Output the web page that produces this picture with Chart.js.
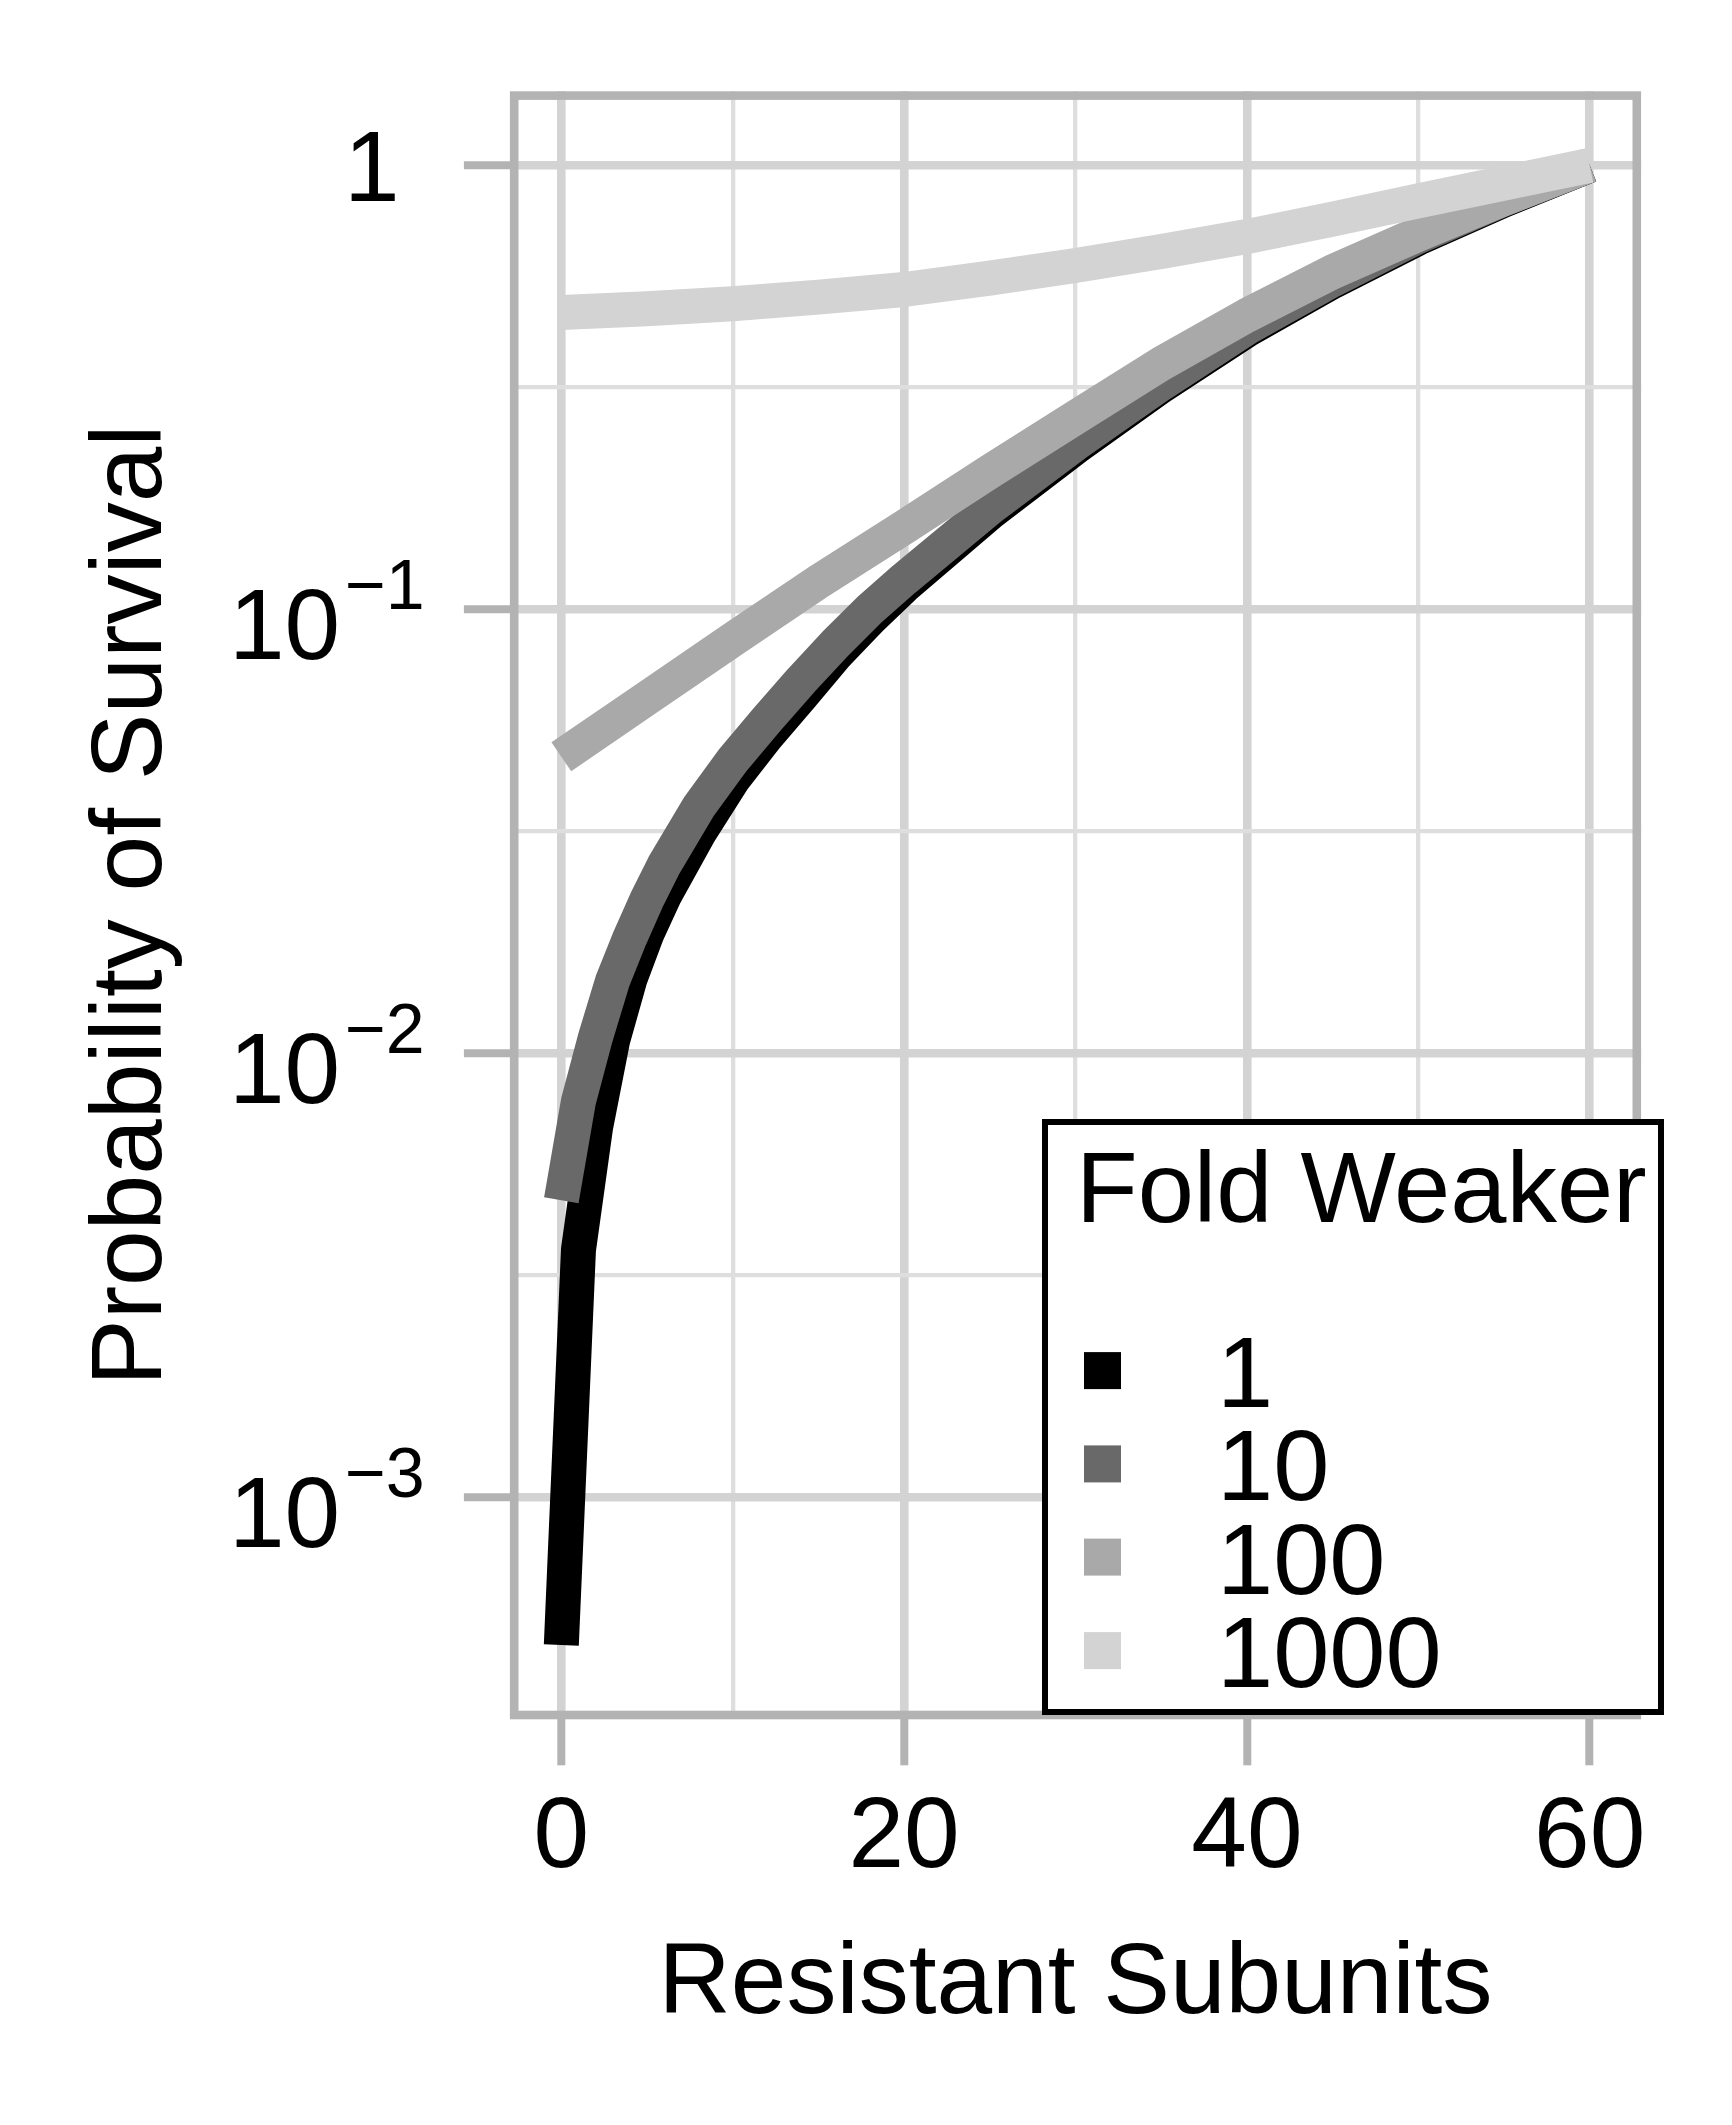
<!DOCTYPE html>
<html>
<head>
<meta charset="utf-8">
<script src="https://cdn.jsdelivr.net/npm/chart.js@4.4.1/dist/chart.umd.min.js"></script>
<style>
html,body{margin:0;padding:0;background:#ffffff;}
canvas{display:block;}
</style>
</head>
<body>
<canvas id="c" width="1732" height="2125"></canvas>
<script>
// ---------------- data ----------------
const xFine   = [0,1,2,3,4,5,6,8,10,12,14,16,18,20,25,30,35,40,45,50,55,60];
const xCoarse = [0,5,10,15,20,25,30,35,40,45,50,55,60];

const fold1 = [0.000465,0.00361,0.00682,0.01072,0.01469,0.01862,0.02259,0.03119,0.0413,0.05188,0.06383,
               0.07889,0.09506,0.1127,0.1648,0.2317,0.3184,0.4256,0.547,0.6855,0.8356,1.0];
const fold10 = [0.004667,0.007798,0.01089,0.01459,0.0182,0.02223,0.02655,0.03581,0.04571,0.05649,0.06918,
                0.08375,0.1,0.1169,0.169,0.236,0.3221,0.4305,0.5521,0.6918,0.8395,1.0];
const fold100 = [0.04656,0.0631,0.08551,0.1153,0.1531,0.2042,0.2704,0.3573,0.4592,0.5754,0.6998,0.8414,1.0];
const fold1000 = [0.4661,0.4753,0.4875,0.5047,0.5252,0.5572,0.5947,0.6397,0.6909,0.7568,0.831,0.912,1.0];

const seriesNames  = ['1','10','100','1000'];
const seriesColors = ['#000000','#696969','#A9A9A9','#D3D3D3'];

const xTickValues = [0,10,20,30,40,50,60];
const xTickLabels = ['0','','20','','40','','60'];
const yMajorTicks = [1,0.1,0.01,0.001];
const yMajorExponents = [0,-1,-2,-3];
const yMinorTicks = [Math.pow(10,-0.5),Math.pow(10,-1.5),Math.pow(10,-2.5)];

const xTitle = 'Resistant Subunits';
const yTitle = 'Probability of Survival';
const legendTitle = 'Fold Weaker';

// ---------------- styling ----------------
const FONT = "'Liberation Sans', Arial, Helvetica, sans-serif";
const GRID_MAJOR = '#D3D3D3', GRID_MINOR = '#DEDEDE', AXIS_GREY = '#B3B3B3';
const Y_MIN = Math.pow(10, -3.5), Y_MAX = Math.pow(10, 1/6);

function isMajorY(v){ const l = Math.log10(v); return Math.abs(l - Math.round(l)) < 1e-6; }
function isMajorX(v){ return v % 20 === 0; }

const seriesX = [xFine, xFine, xCoarse, xCoarse];
const seriesY = [fold1, fold10, fold100, fold1000];

const datasets = seriesNames.map((name, i) => ({
  label: name,
  data: seriesX[i].map((x, j) => ({x: x, y: seriesY[i][j]})),
  borderColor: seriesColors[i],
  backgroundColor: seriesColors[i],
  borderWidth: 35,
  borderCapStyle: 'butt',
  borderJoinStyle: 'round',
  pointRadius: 0,
  pointHoverRadius: 0,
  fill: false,
  tension: 0,
  order: seriesNames.length - 1 - i   // later series drawn on top
}));

// panel border on top of data
const panelBorder = {
  id: 'panelBorder',
  afterDatasetsDraw(chart) {
    const a = chart.chartArea, c = chart.ctx, w = 8.6;
    c.save();
    c.strokeStyle = AXIS_GREY; c.lineWidth = w;
    c.strokeRect(a.left + w/2, a.top + w/2, a.right - a.left - w, a.bottom - a.top - w);
    c.restore();
  }
};

// y tick labels as 10^k with superscripts
const yTickLabels = {
  id: 'yTickLabels',
  afterDraw(chart) {
    const s = chart.scales.y, c = chart.ctx, L = chart.chartArea.left;
    c.save();
    c.fillStyle = '#000'; c.textAlign = 'left'; c.textBaseline = 'alphabetic';
    // size the superscript minus so that its advance matches a 70px Arial minus
    c.font = '70px ' + FONT;
    const mw = c.measureText('\u2212').width || 40.9;
    const minusSize = 70 * 40.9 / mw;
    yMajorTicks.forEach((v, i) => {
      const y = s.getPixelForValue(v);
      const e = yMajorExponents[i];
      if (e === 0) {
        c.font = '100px ' + FONT;
        c.fillText('1', L - 166, y + 36);
      } else {
        c.font = '100px ' + FONT;
        c.fillText('10', L - 281, y + 50);
        c.font = minusSize.toFixed(1) + 'px ' + FONT;
        c.fillText('\u2212', L - 165, y);
        c.font = '70px ' + FONT;
        c.fillText(String(-e), L - 165 + 40.9, y);
      }
    });
    c.restore();
  }
};

// legend box inside the panel
const legendBox = {
  id: 'legendBox',
  afterDraw(chart) {
    const c = chart.ctx;
    const bx = 1045, by = 1122, bw = 616, bh = 590;
    c.save();
    c.fillStyle = '#ffffff';
    c.fillRect(bx, by, bw, bh);
    c.strokeStyle = '#000000'; c.lineWidth = 6;
    c.strokeRect(bx, by, bw, bh);
    c.fillStyle = '#000'; c.textAlign = 'left'; c.textBaseline = 'alphabetic';
    c.font = '101px ' + FONT;
    c.fillText(legendTitle, 1076, 1222);
    const keyCY = [1370.6, 1463.9, 1557.1, 1650.6];
    seriesNames.forEach((name, i) => {
      c.fillStyle = seriesColors[i];
      c.fillRect(1084, keyCY[i] - 18.5, 37, 37);
      c.fillStyle = '#000';
      c.font = '101px ' + FONT;
      c.fillText(name, 1217, keyCY[i] + 36.5);
    });
    c.restore();
  }
};

new Chart(document.getElementById('c'), {
  type: 'line',
  data: { datasets: datasets },
  options: {
    responsive: false,
    devicePixelRatio: 1,
    animation: false,
    events: [],
    layout: { padding: { top: 91.3, right: 90.9, left: 0, bottom: 0 } },
    plugins: { legend: { display: false }, tooltip: { enabled: false } },
    scales: {
      x: {
        type: 'linear', min: -3, max: 63, bounds: 'data',
        afterBuildTicks: s => { s.ticks = xTickValues.map(v => ({ value: v })); s.min = -3; s.max = 63; },
        afterFit: s => { s.height = 2125 - 1719.3; },
        border: { display: false },
        grid: {
          color: ctx => (ctx.tick && isMajorX(ctx.tick.value)) ? GRID_MAJOR : GRID_MINOR,
          lineWidth: ctx => (ctx.tick && isMajorX(ctx.tick.value)) ? 8.6 : 4.3,
          tickColor: ctx => (ctx.tick && isMajorX(ctx.tick.value)) ? AXIS_GREY : 'rgba(0,0,0,0)',
          tickWidth: 8, tickLength: 46, drawTicks: true
        },
        ticks: {
          autoSkip: false, maxRotation: 0, minRotation: 0, padding: 14,
          color: '#000', font: { family: FONT, size: 100 },
          callback: (v) => { const k = xTickValues.indexOf(v); return k >= 0 ? xTickLabels[k] : ''; }
        },
        title: { display: true, text: xTitle, color: '#000',
                 font: { family: FONT, size: 100 }, padding: { top: 0, bottom: 80 } }
      },
      y: {
        type: 'logarithmic', min: Y_MIN, max: Y_MAX, bounds: 'data',
        afterBuildTicks: s => { s.ticks = yMajorTicks.concat(yMinorTicks).map(v => ({ value: v })); s.min = Y_MIN; s.max = Y_MAX; },
        afterFit: s => { s.width = 509.9; },
        border: { display: false },
        grid: {
          color: ctx => (ctx.tick && isMajorY(ctx.tick.value)) ? GRID_MAJOR : GRID_MINOR,
          lineWidth: ctx => (ctx.tick && isMajorY(ctx.tick.value)) ? 8.6 : 4.3,
          tickColor: ctx => (ctx.tick && isMajorY(ctx.tick.value)) ? AXIS_GREY : 'rgba(0,0,0,0)',
          tickWidth: 8, tickLength: 46, drawTicks: true
        },
        ticks: { display: false },
        title: { display: true, text: yTitle, color: '#000',
                 font: { family: FONT, size: 100 }, padding: { top: 73.7, bottom: 0 } }
      }
    }
  },
  plugins: [panelBorder, yTickLabels, legendBox]
});
</script>
</body>
</html>
